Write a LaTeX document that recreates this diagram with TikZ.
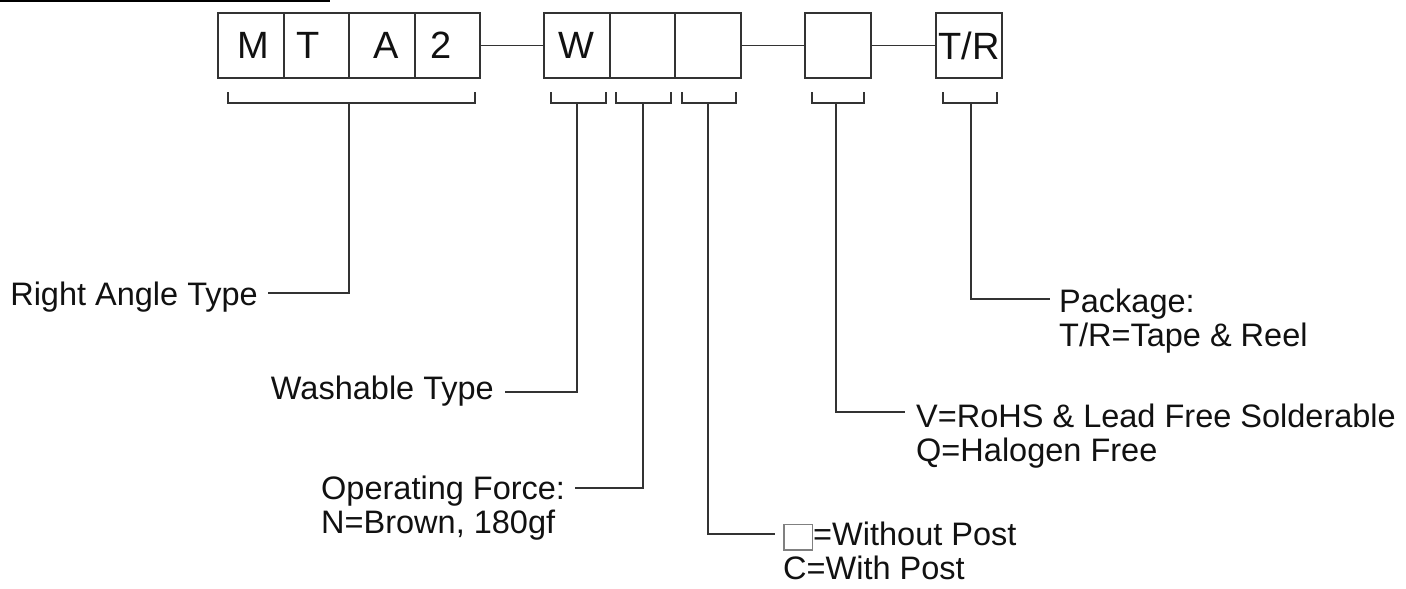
\documentclass[tikz,border=0pt]{standalone}
\usepackage{fontspec}
\setmainfont{Liberation Sans}
\definecolor{lc}{HTML}{333333}
\definecolor{txt}{HTML}{111111}
\newcommand\emptysq{\raisebox{-4pt}{\color{gray}\setlength{\fboxrule}{1.5pt}\setlength{\fboxsep}{0pt}\fbox{\rule{0pt}{24pt}\hspace{27pt}}}}
\newcommand\twolines[2]{\begin{tabular}[t]{@{}l@{}}#1\\#2\end{tabular}}
\begin{document}
\begin{tikzpicture}[x=1pt,y=-1pt,
  cell/.style={draw=lc, line width=1.9pt, minimum width=65.5pt, minimum height=65pt, inner sep=0pt, font=\fontsize{38}{38}\selectfont, text=txt},
  conn/.style={draw=lc, line width=1.9pt},
  lbl/.style={inner sep=0pt, font=\fontsize{32.5}{34}\selectfont, text=txt}]
\useasboundingbox (0,0) rectangle (1406,589);
\draw[line width=2pt, black] (0,1) -- (330,1);
% part number cells
\node[cell] (m)  at (251,45.5)   {\hspace*{4pt}M};
\node[cell] (t)  at (316.5,45.5) {T\hspace*{16pt}};
\node[cell] (a)  at (382,45.5)   {\hspace*{8pt}A};
\node[cell] (n2) at (447.5,45.5) {2\hspace*{12pt}};
\node[cell] (w)  at (576.8,45.5) {W};
\node[cell] (c2) at (642.5,45.5) {};
\node[cell] (c3) at (708.2,45.5) {};
\node[cell] (v)  at (838,45.5)   {};
\node[cell] (tr) at (969,45.5)   {T/R};
\draw[conn] (n2.east) -- (w.west);
\draw[conn] (c3.east) -- (v.west);
\draw[conn] (v.east) -- (tr.west);
% brackets
\draw[conn] (228,92) -- (228,103) -- (475,103) -- (475,92);
\draw[conn] (551,92) -- (551,103) -- (606,103) -- (606,92);
\draw[conn] (616,92) -- (616,103) -- (671,103) -- (671,92);
\draw[conn] (682,92) -- (682,103) -- (736,103) -- (736,92);
\draw[conn] (812,92) -- (812,103) -- (864,103) -- (864,92);
\draw[conn] (943,92) -- (943,103) -- (997,103) -- (997,92);
\coordinate (s1) at (349,103);
\coordinate (s2) at (577,103);
\coordinate (s3) at (643,103);
\coordinate (s4) at (708,103);
\coordinate (s5) at (836,103);
\coordinate (s6) at (971,103);
% labels
\node[lbl, anchor=base east] (l1) at (258,305) {Right Angle Type};
\node[lbl, anchor=base east] (l2) at (494,399) {Washable Type};
\node[lbl, anchor=base west] (l3) at (321,499) {\twolines{Operating Force:}{N=Brown, 180gf}};
\node[lbl, anchor=base west] (l4) at (783,545) {\twolines{\emptysq=Without Post}{C=With Post}};
\node[lbl, anchor=base west] (l5) at (916,427) {\twolines{V=RoHS \& Lead Free Solderable}{Q=Halogen Free}};
\node[lbl, anchor=base west] (l6) at (1059,312) {\twolines{Package:}{T/R=Tape \& Reel}};
\coordinate (e1) at (268,293);
\coordinate (e2) at (505,392);
\coordinate (e3) at (575,488);
\coordinate (e4) at (775,534);
\coordinate (e5) at (905,412);
\coordinate (e6) at (1050,299);
\draw[conn] (s1) |- (e1);
\draw[conn] (s2) |- (e2);
\draw[conn] (s3) |- (e3);
\draw[conn] (s4) |- (e4);
\draw[conn] (s5) |- (e5);
\draw[conn] (s6) |- (e6);
\end{tikzpicture}
\end{document}
